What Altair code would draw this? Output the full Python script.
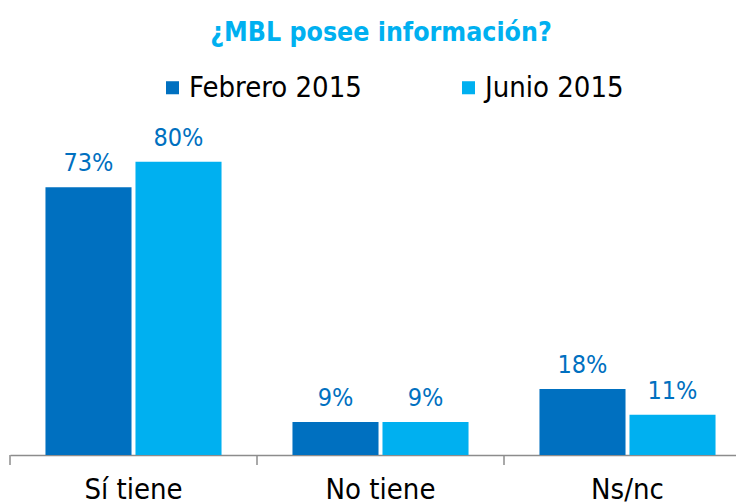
import altair as alt
import pandas as pd

categories = ["Sí tiene", "No tiene", "Ns/nc"]
series = ["Febrero 2015", "Junio 2015"]
febrero = [73, 9, 18]
junio = [80, 9, 11]
colors = ["#0070C0", "#00B0F0"]

rows = []
for i, c in enumerate(categories):
    rows.append({"cat": c, "serie": series[0], "val": febrero[i]})
    rows.append({"cat": c, "serie": series[1], "val": junio[i]})
df = pd.DataFrame(rows)
df["label"] = df["val"].astype(str) + "%"
ticks_df = pd.DataFrame({"cat": categories})

FONT = "DejaVu Sans Condensed"
PLOT_H = 330

xscale = alt.Scale(domain=categories, range=[0, 741], paddingInner=0, paddingOuter=0)
xaxis = alt.Axis(title=None, labelAngle=0, ticks=False, domain=True, domainColor="#8c8c8c",
                 domainWidth=1.5, labelFont=FONT, labelFontSize=29, labelColor="black",
                 labelPadding=20)

base = alt.Chart(df).encode(
    x=alt.X("cat:N", scale=xscale, sort=categories, axis=xaxis),
    xOffset=alt.XOffset("serie:N", sort=series,
                        scale=alt.Scale(paddingInner=0.044, paddingOuter=0.394)),
    y=alt.Y("val:Q", scale=alt.Scale(domain=[0, 90]), axis=None),
)

bars = base.mark_bar().encode(
    color=alt.Color("serie:N", sort=series,
                    scale=alt.Scale(domain=series, range=colors),
                    legend=alt.Legend(orient="none", legendX=148, legendY=-52,
                                      direction="horizontal", title=None,
                                      symbolType="square", symbolSize=170,
                                      symbolStrokeWidth=0, labelFont=FONT,
                                      labelFontSize=29, labelColor="black",
                                      columnPadding=92, labelOffset=2,
                                      labelLimit=400))
)

labels = base.mark_text(dy=-16, baseline="alphabetic", fontSize=25, font=FONT,
                        color="#0070C0").encode(text="label")

tick_rules = alt.Chart(ticks_df).mark_rule(color="#8c8c8c", strokeWidth=1.5).encode(
    x=alt.X("cat:N", scale=xscale, sort=categories, bandPosition=0, axis=xaxis),
    y=alt.value(PLOT_H),
    y2=alt.value(PLOT_H + 10),
)

chart = alt.layer(bars, labels, tick_rules).properties(
    width=726,
    height=PLOT_H,
    padding={"left": 2, "right": 0, "top": 117, "bottom": 47},
    autosize=alt.AutoSizeParams(type="none"),
    title=alt.TitleParams("¿MBL posee información?", fontSize=26.5, fontWeight="bold",
                          color="#00B0F0", font=FONT, anchor="middle", dx=8, offset=27),
).configure_view(stroke=None)

chart.save("out.html", embed_options={"renderer": "svg", "actions": False})
